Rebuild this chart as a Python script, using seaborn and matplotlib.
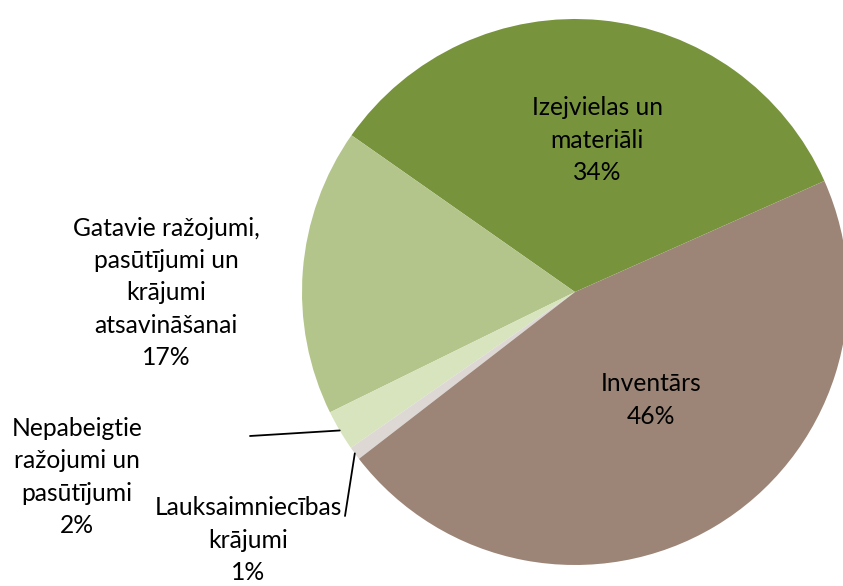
import numpy as np
import matplotlib
matplotlib.use("Agg")
import matplotlib.pyplot as plt
import seaborn as sns

sns.set_theme(style="white")
plt.rcParams["font.family"] = ["Lato", "DejaVu Sans"]

# slices in counter-clockwise order, starting at the right
categories = [
    "Izejvielas un\nmateriāli",
    "Gatavie ražojumi,\npasūtījumi un\nkrājumi\natsavināšanai",
    "Nepabeigtie\nražojumi un\npasūtījumi",
    "Lauksaimniecības\nkrājumi",
    "Inventārs",
]
shares = [33.6, 17.0, 2.4, 0.8, 46.2]
colors = ["#77933C", "#B3C58B", "#D7E4BD", "#DDD8D4", "#9C8577"]

W, H = 843, 586
center = (575, 294)
radius = 273
start = 24

fig = plt.figure(figsize=(W / 100, H / 100), dpi=100)
ax = fig.add_axes([0, 0, 1, 1])
wedges, _ = ax.pie(shares, colors=colors, startangle=start, counterclock=True,
                   center=center, radius=radius, frame=True,
                   wedgeprops={"linewidth": 0})
ax.set_xlim(0, W)
ax.set_ylim(0, H)
ax.set_aspect("equal")
ax.axis("off")

labels = [f"{c}\n{round(s):d}%" for c, s in zip(categories, shares)]
# label anchors (pixel space, y up)
label_pos = [(597, 446), (166, 293), (77, 109), (248, 46), (651, 186)]
# leader line start, None for labels inside the pie
leader_from = [None, None, (250, 150), (345, 70), None]

fs = 17.7
for w, lab, pos, lf in zip(wedges, labels, label_pos, leader_from):
    ax.text(pos[0], pos[1], lab, ha="center", va="center", fontsize=fs,
            color="black", linespacing=1.48)
    if lf is not None:
        mid = np.deg2rad((w.theta1 + w.theta2) / 2)
        ex = center[0] + radius * np.cos(mid)
        ey = center[1] + radius * np.sin(mid)
        ax.plot([lf[0], ex], [lf[1], ey], color="black", lw=1.3)

fig.savefig("out.png", dpi=100)
